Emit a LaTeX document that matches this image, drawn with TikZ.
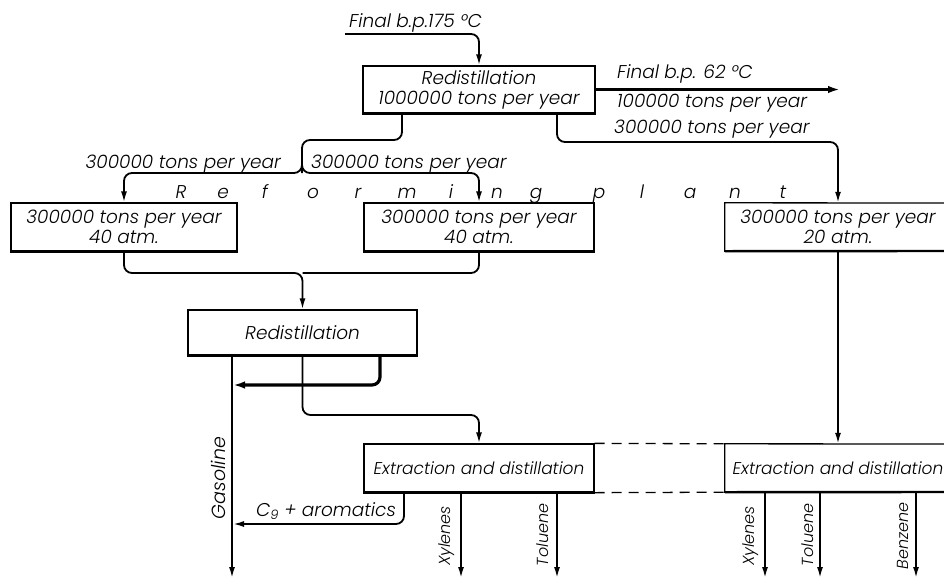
\documentclass[tikz,border=0pt]{standalone}
\usepackage{fontspec}
\setmainfont{Poppins}[ItalicFont={Poppins Light Italic}]
\usetikzlibrary{arrows.meta,calc}
\newcommand{\lbl}{\fontsize{18.5}{20}\selectfont\itshape}
\newcommand{\lblx}{\fontsize{17}{20}\selectfont\itshape}
\newcommand{\lblr}{\fontsize{16}{18}\selectfont\itshape}
\newcommand{\lblg}{\fontsize{19}{20}\selectfont\itshape}
\tikzset{
  box/.style={draw, line width=1.3pt, inner sep=0pt, align=center, font=\lbl},
  txt/.style={inner sep=0pt, font=\lbl},
  ln/.style={line width=1.8pt},
  arr/.style={line width=1.8pt, -{Latex[length=11pt,width=6pt]}},
  thk/.style={line width=3.2pt, -{Latex[length=12pt,width=7.5pt]}},
  rc/.style={rounded corners=8pt},
  shadow/.style={line width=2.4pt},
}
\begin{document}
\begin{tikzpicture}[x=1pt,y=-1pt]
\useasboundingbox (0,0) rectangle (944,579);
% boxes
\node[box, minimum width=232, minimum height=47] (b1) at (479,89.5) {Redistillation\\1000000 tons per year};
\node[box, minimum width=226, minimum height=48] (lb) at (124,227) {300000 tons per year\\40 atm.};
\node[box, minimum width=230, minimum height=48] (mb) at (479,227) {300000 tons per year\\40 atm.};
\node[txt, align=center, minimum width=226, minimum height=48] (rb) at (838,227) {300000 tons per year\\20 atm.};
\node[box, minimum width=229, minimum height=45] (b2) at (302.5,332.5) {Redistillation};
\node[box, minimum width=230, minimum height=48, font=\lblx] (e1) at (479,468) {Extraction and distillation};
\node[txt, minimum width=226, minimum height=48, font=\lblx] (e2) at (838,468) {Extraction and distillation};
% open frames at the right edge
\draw[line width=1.3pt] (944,203) -- (rb.north west) -- (rb.south west) -- (944,251);
\draw[line width=1.3pt] (944,444) -- (e2.north west) -- (e2.south west) -- (944,492);
% shadows
\foreach \b in {b1,lb,mb,b2,e1} \draw[shadow] (\b.south west) -- (\b.south east);
\draw[shadow] (rb.south west) -- (944,251);
\draw[shadow] (e2.south west) -- (944,492);
% dashed links
\draw[line width=1.3pt, dash pattern=on 10pt off 7pt] (e1.north east) -- (e2.north west);
\draw[line width=1.3pt, dash pattern=on 10pt off 7pt] (e1.south east) -- (e2.south west);
% input
\coordinate (in) at (345,34);
\node[txt, anchor=base west] (tin) at (349,27) {Final b.p.175 °C};
\draw[arr, rc] (in) -| (b1.north);
% light ends
\coordinate (lt) at (840,89.5);
\draw[thk] (b1.east) -- (lt);
\node[txt, anchor=base west] (t62) at (617,78) {Final b.p. 62 °C};
\node[txt, anchor=base west] (t100) at (617,107) {100000 tons per year};
\node[txt, anchor=base west] (t300) at (614,133) {300000 tons per year};
% to right reformer
\draw[arr, rc] ([xshift=78pt]b1.south) |- (838,142) -- (rb.north);
% split to left and middle reformers
\coordinate (sp) at (302,173);
\draw[ln, rc] ([xshift=-77pt]b1.south) |- (302,140) -- (sp);
\draw[arr, rc] (302,150) -- (sp) -| (lb.north);
\draw[arr, rc] (302,150) -- (sp) -| (mb.north);
\node[txt, anchor=base east] (tl) at (281,168) {300000 tons per year};
\node[txt, anchor=base west] (tr) at (311,168) {300000 tons per year};
% reforming plant
\foreach \ch/\xx in {R/181,e/223,f/265,o/313,r/358,m/407,i/451,n/497,g/536,p/599,l/642,a/690,n/735,t/783}
  \node[txt, anchor=base] at (\xx,198) {\ch};
% merge to redistillation
\coordinate (mg) at (302.5,273);
\draw[arr, rc] (lb.south) |- (mg) -- (b2.north);
\draw[ln, rc] (mb.south) |- (mg);
% right reformer to extraction
\draw[arr] (rb.south) -- (e2.north);
% gasoline
\coordinate (gend) at (232,578);
\draw[arr] ([xshift=-70.5pt]b2.south) -- (gend);
\node[txt, rotate=90, font=\lblg] (tg) at (218,478) {Gasoline};
% recycle to gasoline
\coordinate (rcy) at (233,385);
\draw[thk, rc] ([xshift=77.5pt]b2.south) |- (rcy);
% to extraction
\draw[arr, rc] (b2.south) |- (479,415) -- (e1.north);
% C9 aromatics
\coordinate (c9) at (233,524);
\draw[arr, rc] ([xshift=-75pt]e1.south) |- (c9);
\node[txt, anchor=base] (tc9) at (326,516) {C\textsubscript{9} + aromatics};
% products
\coordinate (p1) at (461,578);
\coordinate (p2) at (557,578);
\coordinate (p3) at (765,578);
\coordinate (p4) at (820,578);
\coordinate (p5) at (916,578);
\draw[arr] (e1.south -| p1) -- (p1);
\draw[arr] (e1.south -| p2) -- (p2);
\draw[arr] (e2.south -| p3) -- (p3);
\draw[arr] (e2.south -| p4) -- (p4);
\draw[arr] (e2.south -| p5) -- (p5);
\node[txt, rotate=90, font=\lblr] (x1) at (447,536) {Xylenes};
\node[txt, rotate=90, font=\lblr] (t1) at (543,535) {Toluene};
\node[txt, rotate=90, font=\lblr] (x2) at (751,536) {Xylenes};
\node[txt, rotate=90, font=\lblr] (t2) at (808,535) {Toluene};
\node[txt, rotate=90, font=\lblr] (bz) at (903,536) {Benzene};
\end{tikzpicture}
\end{document}
